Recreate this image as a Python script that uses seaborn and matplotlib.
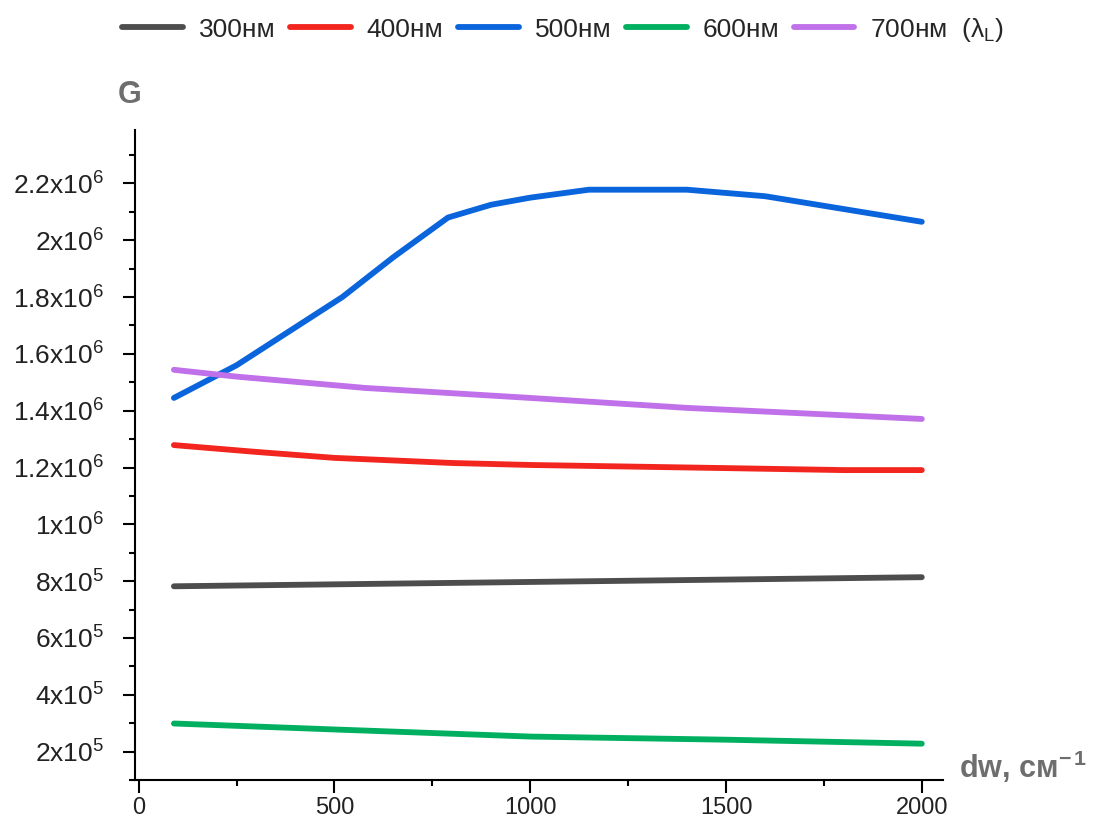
import numpy as np
import pandas as pd
import seaborn as sns
import matplotlib.pyplot as plt
from matplotlib.ticker import MultipleLocator, FixedLocator, FixedFormatter

# values (G vs dw)
x_300 = [90, 2000]
g_300 = [7.82e5, 8.14e5]

x_400 = [90, 300, 500, 800, 1000, 1500, 1800, 2000]
g_400 = [1.279e6, 1.255e6, 1.234e6, 1.216e6, 1.209e6, 1.198e6, 1.191e6, 1.191e6]

x_500 = [90, 250, 520, 650, 790, 900, 1000, 1150, 1400, 1600, 2000]
g_500 = [1.445e6, 1.56e6, 1.80e6, 1.94e6, 2.08e6, 2.125e6, 2.15e6, 2.178e6, 2.178e6, 2.155e6, 2.065e6]

x_600 = [90, 500, 1000, 1500, 2000]
g_600 = [2.99e5, 2.78e5, 2.53e5, 2.42e5, 2.28e5]

x_700 = [90, 250, 580, 1000, 1400, 2000]
g_700 = [1.544e6, 1.52e6, 1.48e6, 1.445e6, 1.41e6, 1.371e6]

labels = ["300нм", "400нм", "500нм", "600нм", "700нм  (λ$_L$)"]
colors = ["#4d4d4d", "#f2261e", "#0a64dc", "#00b060", "#c070e8"]

y_ticks = [2e5, 4e5, 6e5, 8e5, 1e6, 1.2e6, 1.4e6, 1.6e6, 1.8e6, 2e6, 2.2e6]
y_tick_labels = ["2x10$^{5}$", "4x10$^{5}$", "6x10$^{5}$", "8x10$^{5}$", "1x10$^{6}$",
                 "1.2x10$^{6}$", "1.4x10$^{6}$", "1.6x10$^{6}$", "1.8x10$^{6}$",
                 "2x10$^{6}$", "2.2x10$^{6}$"]

series = [(x_300, g_300), (x_400, g_400), (x_500, g_500), (x_600, g_600), (x_700, g_700)]

sns.set_theme(style="ticks")
plt.rcParams["font.family"] = ["Liberation Sans", "DejaVu Sans"]
plt.rcParams["mathtext.fontset"] = "custom"
plt.rcParams["mathtext.rm"] = "Liberation Sans"
plt.rcParams["mathtext.it"] = "Liberation Sans:italic"
plt.rcParams["mathtext.bf"] = "Liberation Sans:bold"
plt.rcParams["mathtext.default"] = "regular"

fig = plt.figure(figsize=(11, 8.23), dpi=100)
ax = fig.add_axes([0.1227, 0.0522, 0.7345, 0.7898])

for (xs, ys), lab, col in zip(series, labels, colors):
    df = pd.DataFrame({"dw": xs, "G": ys})
    sns.lineplot(data=df, x="dw", y="G", color=col, linewidth=4.2,
                 label=lab, ax=ax, solid_capstyle="round")

handles, labs = ax.get_legend_handles_labels()
ax.get_legend().remove()
fig.legend(handles, labs, loc="upper center", bbox_to_anchor=(0.512, 1.01), ncol=5,
           frameon=False, fontsize=19, handlelength=2.3, handletextpad=0.6,
           columnspacing=0.55)

ax.set_xlim(-9.5, 2054)
ax.set_ylim(1e5, 2.388e6)
ax.xaxis.set_major_locator(MultipleLocator(500))
ax.xaxis.set_minor_locator(MultipleLocator(250))
ax.yaxis.set_major_locator(FixedLocator(y_ticks))
ax.yaxis.set_major_formatter(FixedFormatter(y_tick_labels))
ax.yaxis.set_minor_locator(MultipleLocator(1e5))

ax.tick_params(axis="both", which="major", direction="out", length=9, width=1.5,
               color="black", labelsize=19, labelcolor="#222222")
ax.tick_params(axis="both", which="minor", direction="out", length=4.5, width=1.5,
               color="black")
ax.tick_params(axis="y", which="major", pad=13)
ax.tick_params(axis="x", which="major", pad=3, labelsize=17)

sns.despine(ax=ax)
for side in ["left", "bottom"]:
    ax.spines[side].set_linewidth(1.5)
    ax.spines[side].set_color("black")

ax.set_xlabel("")
ax.set_ylabel("")

fig.text(0.118, 0.885, "G", fontsize=22, fontweight="bold", color="#6e6e6e",
         ha="center", va="center")
fig.text(0.872, 0.068, "dw, см$^{-\\,1}$", fontsize=22, fontweight="bold",
         color="#6e6e6e", ha="left", va="center")

fig.savefig("out.png", dpi=100)
